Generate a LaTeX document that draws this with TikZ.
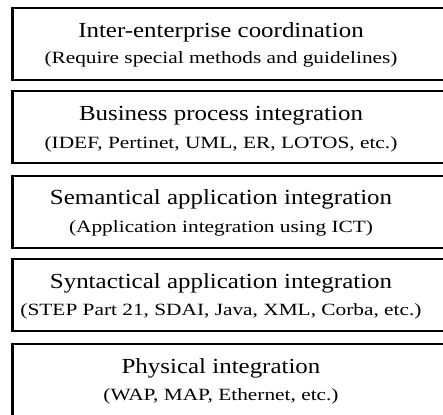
\documentclass[tikz,border=0pt]{standalone}
\usepackage{fontspec}
\setmainfont{Liberation Serif}
% headings and notes are set slightly widened
\newcommand{\headtext}[1]{\scalebox{1.16}[1]{\fontsize{21.5}{23}\selectfont #1}}
\newcommand{\notetext}[1]{\scalebox{1.24}[1]{\fontsize{17.2}{19}\selectfont #1}}
\begin{document}
\begin{tikzpicture}[x=1pt,y=-1pt,
  layer/.style={draw=black, line width=1.6pt, fill=white},
  title/.style={anchor=base, inner sep=0pt},
  sub/.style={anchor=base, inner sep=0pt}]
\useasboundingbox (0,0) rectangle (443,414);
\clip (0,0) rectangle (443,414);
% five stacked layers; the right side runs past the frame
\foreach \t in {8, 91, 176, 259, 344}{
  \draw[layer] (12.5,\t) rectangle (460,\t+72);
  \draw[line width=3pt] (12.5,\t-0.8) -- (12.5,\t+72.8);
}
\node[title] (t1) at (221,38)  {\headtext{Inter-enterprise coordination}};
\node[sub]   (s1) at (221,64)  {\notetext{(Require special methods and guidelines)}};
\node[title] (t2) at (221,121) {\headtext{Business process integration}};
\node[sub]   (s2) at (221,148) {\notetext{(IDEF, Pertinet, UML, ER, LOTOS, etc.)}};
\node[title] (t3) at (221,204) {\headtext{Semantical application integration}};
\node[sub]   (s3) at (221,232) {\notetext{(Application integration using ICT)}};
\node[title] (t4) at (221,288) {\headtext{Syntactical application integration}};
\node[sub]   (s4) at (221,315) {\notetext{(STEP Part 21, SDAI, Java, XML, Corba, etc.)}};
\node[title] (t5) at (221,373) {\headtext{Physical integration}};
\node[sub]   (s5) at (221,400) {\notetext{(WAP, MAP, Ethernet, etc.)}};
\end{tikzpicture}
\end{document}
